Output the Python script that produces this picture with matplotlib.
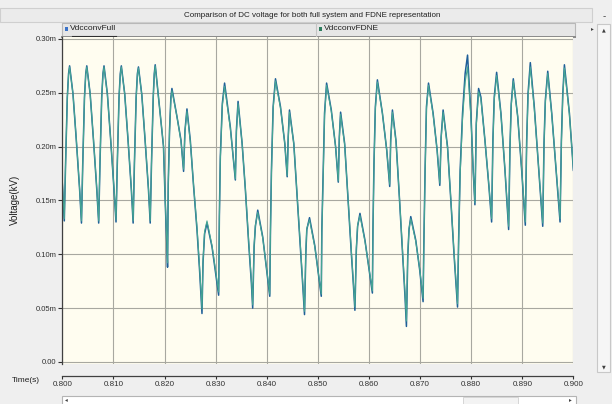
import matplotlib
matplotlib.use("Agg")
import matplotlib.pyplot as plt
import matplotlib.patches as patches
import numpy as np

plt.rcParams['font.family'] = ['Liberation Sans', 'DejaVu Sans']

title = "Comparison of DC voltage for both full system and FDNE representation"
names = ["VdcconvFull", "VdcconvFDNE"]
yticks = [0.00, 0.05, 0.10, 0.15, 0.20, 0.25, 0.30]
xticks = [0.800, 0.810, 0.820, 0.830, 0.840, 0.850, 0.860, 0.870, 0.880, 0.890, 0.900]

# time in ms after t = 0.800 s, one row per converter pulse
time_ms = [0.00, 0.39,
    0.64, 0.98, 1.23, 1.43, 2.09, 2.74, 3.39, 3.75,
    4.00, 4.34, 4.59, 4.79, 5.45, 6.10, 6.75, 7.12,
    7.37, 7.71, 7.96, 8.16, 8.82, 9.47, 10.12, 10.51,
    10.76, 11.10, 11.35, 11.55, 12.21, 12.86, 13.51, 13.86,
    14.11, 14.45, 14.70, 14.90, 15.56, 16.21, 16.86, 17.20,
    17.45, 17.79, 18.00, 18.18, 18.82, 19.80, 20.14, 20.47, 20.59,
    20.73, 20.98, 21.25, 21.45, 22.43, 23.22, 23.73,
    24.00, 24.39, 25.04, 25.69, 26.35, 26.86, 27.33,
    27.53, 27.84, 28.31, 29.29, 30.59,
    30.73, 30.92, 31.31, 31.75, 32.88, 33.86,
    34.06, 34.39, 35.18, 35.82, 36.47, 37.00, 37.25,
    37.53, 37.78, 38.24, 39.22, 40.59,
    40.73, 40.92, 41.25, 41.71, 42.69, 43.53, 44.00,
    44.20, 44.45, 45.29, 45.96, 46.61, 47.06, 47.39,
    47.65, 47.84, 48.37, 49.40, 50.67,
    50.78, 51.06, 51.31, 51.71, 52.63, 53.47, 54.00,
    54.20, 54.45, 55.24, 55.88, 56.55, 56.94, 57.25,
    57.53, 57.78, 58.24, 59.22, 60.67,
    60.78, 60.98, 61.25, 61.65, 62.63, 63.47, 64.06,
    64.25, 64.59, 65.30, 65.95, 66.60, 67.05, 67.33,
    67.59, 67.84, 68.18, 69.16, 69.94, 70.59,
    70.73, 70.98, 71.25, 71.65, 72.55, 73.33, 73.86,
    74.12, 74.51, 75.37, 76.02, 76.67, 77.06, 77.33,
    77.53, 77.84, 78.31, 78.82, 79.29, 79.94, 80.39, 80.73,
    81.00, 81.45, 81.90, 82.69, 83.47, 84.00,
    84.25, 84.51, 84.98, 85.82, 86.61, 87.33,
    87.59, 87.84, 88.24, 89.10, 89.88, 90.59,
    90.86, 91.12, 91.57, 92.35, 93.22, 94.00,
    94.25, 94.51, 94.98, 95.76, 96.61, 97.39,
    97.65, 97.92, 98.24, 99.22, 100.0]

v_full = [0.166, 0.131,
    0.184, 0.246, 0.268, 0.275, 0.249, 0.206, 0.160, 0.129,
    0.184, 0.246, 0.268, 0.275, 0.249, 0.206, 0.160, 0.129,
    0.184, 0.246, 0.268, 0.275, 0.249, 0.206, 0.160, 0.130,
    0.184, 0.246, 0.268, 0.275, 0.249, 0.206, 0.160, 0.129,
    0.184, 0.246, 0.268, 0.274, 0.248, 0.205, 0.160, 0.129,
    0.184, 0.246, 0.268, 0.276, 0.246, 0.200, 0.148, 0.107, 0.088,
    0.166, 0.215, 0.246, 0.254, 0.228, 0.206, 0.177,
    0.215, 0.235, 0.206, 0.163, 0.123, 0.085, 0.045,
    0.092, 0.119, 0.129, 0.107, 0.062,
    0.135, 0.191, 0.240, 0.259, 0.218, 0.169,
    0.215, 0.242, 0.203, 0.160, 0.110, 0.073, 0.050,
    0.107, 0.126, 0.141, 0.116, 0.061,
    0.123, 0.178, 0.237, 0.263, 0.237, 0.203, 0.172,
    0.209, 0.234, 0.203, 0.153, 0.104, 0.070, 0.044,
    0.101, 0.123, 0.134, 0.108, 0.061,
    0.123, 0.178, 0.231, 0.259, 0.234, 0.200, 0.167,
    0.209, 0.232, 0.203, 0.153, 0.101, 0.073, 0.048,
    0.104, 0.126, 0.138, 0.113, 0.064,
    0.123, 0.184, 0.237, 0.262, 0.231, 0.197, 0.163,
    0.206, 0.234, 0.205, 0.153, 0.098, 0.061, 0.033,
    0.098, 0.123, 0.135, 0.113, 0.085, 0.056,
    0.107, 0.178, 0.237, 0.259, 0.231, 0.197, 0.164,
    0.209, 0.234, 0.200, 0.150, 0.098, 0.070, 0.051,
    0.110, 0.178, 0.231, 0.268, 0.285, 0.231, 0.178, 0.146,
    0.222, 0.254, 0.246, 0.206, 0.163, 0.130,
    0.206, 0.246, 0.269, 0.231, 0.178, 0.123,
    0.200, 0.240, 0.263, 0.228, 0.178, 0.127,
    0.206, 0.249, 0.278, 0.237, 0.178, 0.126,
    0.203, 0.243, 0.270, 0.231, 0.178, 0.130,
    0.206, 0.249, 0.276, 0.231, 0.178]

v_fdne = [0.168, 0.133,
    0.184, 0.245, 0.267, 0.274, 0.249, 0.207, 0.161, 0.131,
    0.184, 0.245, 0.267, 0.274, 0.249, 0.207, 0.161, 0.131,
    0.185, 0.245, 0.267, 0.274, 0.248, 0.206, 0.161, 0.132,
    0.184, 0.245, 0.267, 0.274, 0.249, 0.207, 0.161, 0.131,
    0.184, 0.245, 0.267, 0.273, 0.248, 0.206, 0.161, 0.131,
    0.184, 0.245, 0.267, 0.275, 0.246, 0.201, 0.150, 0.110, 0.092,
    0.164, 0.213, 0.244, 0.252, 0.228, 0.205, 0.179,
    0.214, 0.233, 0.205, 0.164, 0.125, 0.088, 0.049,
    0.094, 0.121, 0.131, 0.108, 0.065,
    0.132, 0.188, 0.238, 0.256, 0.217, 0.170,
    0.213, 0.240, 0.203, 0.161, 0.112, 0.076, 0.053,
    0.108, 0.127, 0.139, 0.115, 0.063,
    0.120, 0.175, 0.235, 0.261, 0.236, 0.203, 0.173,
    0.207, 0.232, 0.203, 0.154, 0.106, 0.073, 0.047,
    0.103, 0.124, 0.132, 0.107, 0.063,
    0.120, 0.175, 0.229, 0.257, 0.233, 0.200, 0.168,
    0.207, 0.230, 0.202, 0.154, 0.104, 0.076, 0.051,
    0.106, 0.127, 0.136, 0.112, 0.066,
    0.120, 0.181, 0.235, 0.260, 0.231, 0.197, 0.165,
    0.204, 0.232, 0.204, 0.154, 0.101, 0.065, 0.038,
    0.100, 0.124, 0.133, 0.112, 0.086, 0.059,
    0.104, 0.175, 0.235, 0.257, 0.230, 0.197, 0.166,
    0.207, 0.232, 0.199, 0.151, 0.100, 0.073, 0.054,
    0.108, 0.174, 0.226, 0.260, 0.274, 0.228, 0.178, 0.148,
    0.220, 0.251, 0.244, 0.206, 0.164, 0.133,
    0.203, 0.243, 0.266, 0.230, 0.179, 0.126,
    0.198, 0.238, 0.261, 0.228, 0.179, 0.130,
    0.203, 0.246, 0.274, 0.235, 0.179, 0.129,
    0.201, 0.241, 0.268, 0.230, 0.179, 0.133,
    0.203, 0.246, 0.273, 0.230, 0.179]

t = 0.8 + np.array(time_ms) / 1000.0

W, H = 612, 404
fig = plt.figure(figsize=(W / 100, H / 100), dpi=100)
fig.patch.set_facecolor('#efefef')

def frac(x0, y0, x1, y1):
    # pixel box (top-left origin) -> figure fraction rect
    return [x0 / W, 1 - y1 / H, (x1 - x0) / W, (y1 - y0) / H]

# background "window" drawn in pixel coordinates
bg = fig.add_axes([0, 0, 1, 1], zorder=0)
bg.set_xlim(0, W)
bg.set_ylim(H, 0)
bg.axis('off')
bg.add_patch(patches.Rectangle((0, 8), 592, 14, fc='#ebebeb', ec='#cfcfcf', lw=0.8))
bg.text(312, 15.5, title, fontsize=5.8, ha='center', va='center', color='#202020')
bg.text(604, 16, '-', fontsize=7, ha='center', va='center', color='#404040')
# legend bar
bg.add_patch(patches.Rectangle((62, 23), 513, 14, fc='#e6e6e6', ec='#b8b8b8', lw=0.8))
bg.plot([62, 575], [37, 37], color='#8a8a8a', lw=1.4)
bg.plot([316, 316], [23, 36], color='#c4c4c4', lw=0.8)
bg.add_patch(patches.Rectangle((64.5, 27), 3.5, 3.5, fc='#3a72c8', ec='none'))
bg.text(70, 29, names[0], fontsize=6, ha='left', va='center', color='#202020')
bg.plot([72, 116], [35.5, 35.5], color='#303030', lw=0.8)
bg.add_patch(patches.Rectangle((318.5, 27), 3.5, 3.5, fc='#2e7d5e', ec='none'))
bg.text(324, 29, names[1], fontsize=6, ha='left', va='center', color='#202020')
# right scroll bar
bg.add_patch(patches.Rectangle((597, 24), 13, 348, fc='#f6f6f6', ec='#c8c8c8', lw=0.8))
bg.text(603.5, 30, '\u25b2', fontsize=3.5, ha='center', va='center', color='#404040',
        family='DejaVu Sans')
bg.text(603.5, 367, '\u25bc', fontsize=3.5, ha='center', va='center', color='#404040',
        family='DejaVu Sans')
bg.text(592, 29, '\u25b8', fontsize=4, ha='center', va='center', color='#404040',
        family='DejaVu Sans')
# bottom scroll bar
bg.add_patch(patches.Rectangle((62, 396), 514, 10, fc='#ffffff', ec='#b4b4b4', lw=0.8))
bg.add_patch(patches.Rectangle((463, 397), 55, 8, fc='#f3f3f3', ec='#d0d0d0', lw=0.6))
bg.text(66, 400, '\u25c2', fontsize=4, ha='center', va='center', color='#404040',
        family='DejaVu Sans')
bg.text(570, 400, '\u25b8', fontsize=4, ha='center', va='center', color='#404040',
        family='DejaVu Sans')
bg.text(26, 381, 'Time(s)', fontsize=6, ha='center', va='center', color='#202020')
bg.text(15, 200, 'Voltage(kV)', fontsize=7, ha='center', va='center', rotation=90,
        color='#202020')

# main plot
ax = fig.add_axes(frac(62.3, 37, 573.4, 364), zorder=1)
ax.set_facecolor('#fffdf0')
ax.plot(t, v_full, color='#1f5f98', lw=1.1, label=names[0])
ax.plot(t, v_fdne, color='#45a593', lw=0.8, label=names[1])
ax.set_xlim(0.8, 0.9)
ax.set_ylim(-0.0019, 0.3018)
ax.set_yticks(yticks)
ax.set_yticklabels([("%.2fm" % v) if v > 0 else "0.00" for v in yticks])
ax.set_xticks(xticks)
ax.tick_params(axis='x', length=0, labelbottom=False)
ax.tick_params(axis='y', direction='out', length=3, width=0.8, pad=1,
               labelsize=5.5, colors='#303030')
ax.grid(True, color='#a8a8a0', lw=0.8)
ax.set_axisbelow(True)
for side in ['top', 'right', 'bottom']:
    ax.spines[side].set_visible(False)
ax.spines['left'].set_color('#404040')
ax.spines['left'].set_linewidth(0.9)

# separate time axis under the plot
axt = fig.add_axes(frac(62.3, 376, 573.4, 376.01), zorder=1)
axt.set_xlim(0.8, 0.9)
axt.set_xticks(xticks)
axt.set_xticklabels(["%.3f" % v for v in xticks])
axt.set_yticks([])
axt.patch.set_visible(False)
for side in ['top', 'right', 'left']:
    axt.spines[side].set_visible(False)
axt.spines['bottom'].set_color('#404040')
axt.spines['bottom'].set_linewidth(0.9)
axt.tick_params(axis='x', direction='out', length=2, width=0.8, pad=1.5,
                labelsize=5.8, colors='#303030')

fig.savefig('out.png', dpi=100, facecolor=fig.get_facecolor())
